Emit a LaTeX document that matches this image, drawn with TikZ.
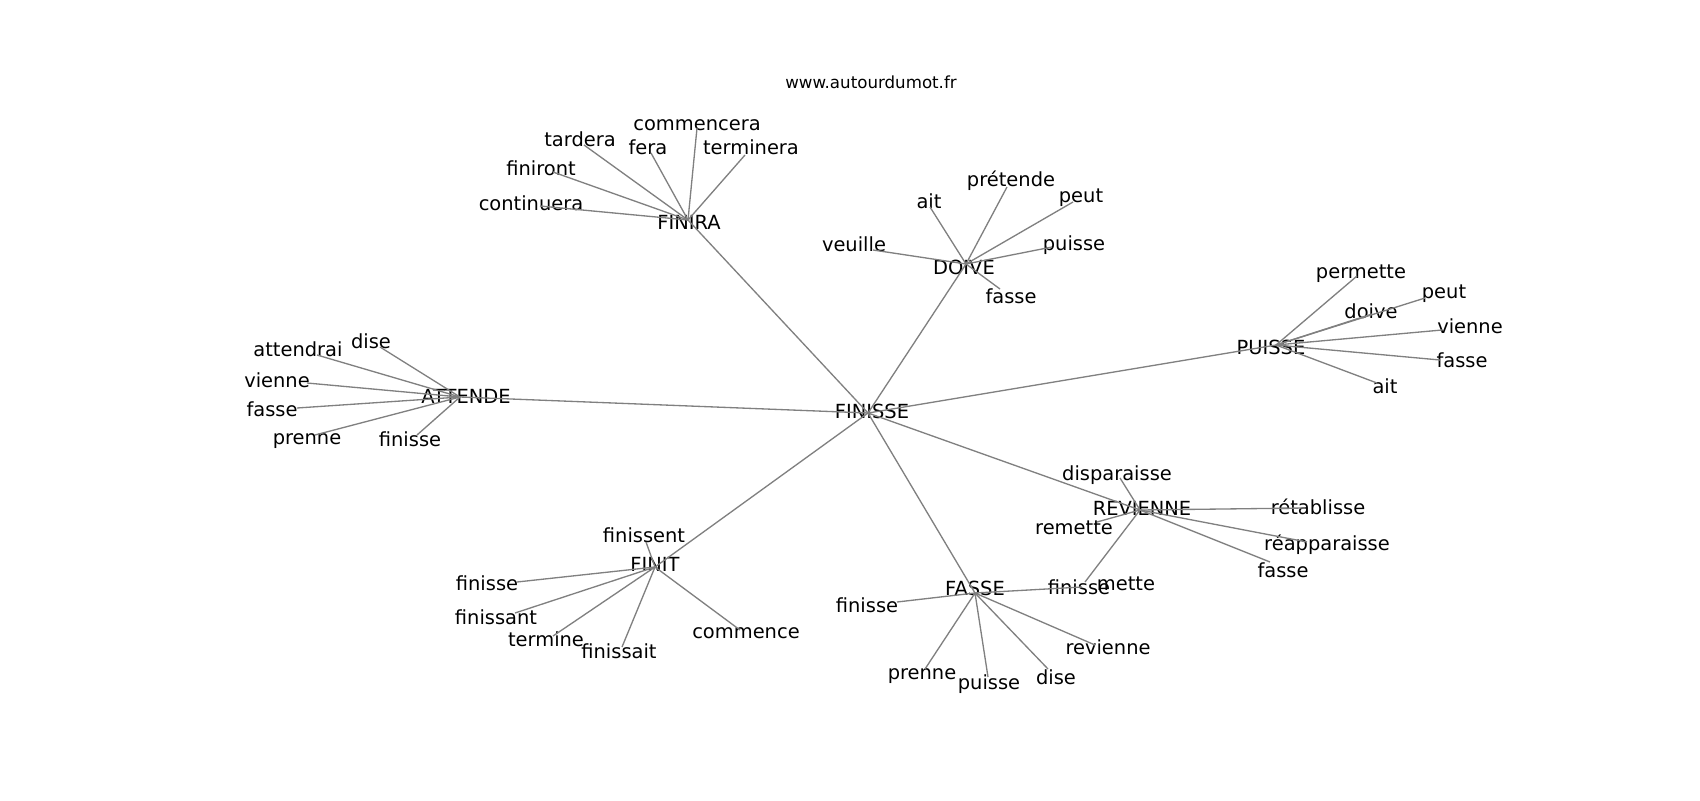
\documentclass[tikz,border=0pt]{standalone}
\usepackage{fontspec}
\setmainfont{DejaVu Sans}
\tikzset{
  lbl/.style={inner sep=0pt, text=black, font=\fontsize{14pt}{17pt}\selectfont},
  ttl/.style={inner sep=0pt, text=black, font=\fontsize{12pt}{14pt}\selectfont},
  edge/.style={draw=gray, line width=0.95pt},
}
\newcommand\wnode[6]{%
  \coordinate (#1p) at (#5,#6);
  \node[lbl] (#1) at (#2,#3) {#4};
}
\begin{document}
\begin{tikzpicture}[x=0.72pt,y=-0.72pt]
\useasboundingbox (0,0) rectangle (1700,800);
\fill[white] (0,0) rectangle (1700,800);
\node[ttl] (title) at (871,82) {www.autourdumot.fr};

% hubs
\wnode{finisse}{872}{411}{FINISSE}{868}{413}
\wnode{finira}{689}{222}{FINIRA}{688}{220}
\wnode{doive}{964}{267}{DOIVE}{966}{264}
\wnode{puisse}{1271}{347}{PUISSE}{1276}{345}
\wnode{attende}{466}{396}{ATTENDE}{460}{397}
\wnode{finit}{655}{564}{FINIT}{655}{567}
\wnode{fasse}{975}{588}{FASSE}{975}{593}
\wnode{revienne}{1142}{508}{REVIENNE}{1140}{510}

% FINIRA leaves
\wnode{a1}{697}{125}{commencera}{697}{128}
\wnode{a2}{580}{139}{tardera}{584}{145}
\wnode{a3}{648}{147}{fera}{651}{153}
\wnode{a4}{751}{147}{terminera}{745}{155}
\wnode{a5}{541}{168}{finiront}{553}{172}
\wnode{a6}{531}{203}{continuera}{540}{206}

% DOIVE leaves
\wnode{b1}{929}{201}{ait}{930}{207}
\wnode{b2}{1011}{181}{prétende}{1007}{187}
\wnode{b3}{1081}{198}{peut}{1073}{202}
\wnode{b4}{1074}{245}{puisse}{1052}{247}
\wnode{b5}{854}{244}{veuille}{873}{250}
\wnode{b6}{1011}{296}{fasse}{1000}{289}

% PUISSE leaves
\wnode{c1}{1361}{274}{permette}{1357}{276}
\wnode{c2}{1444}{294}{peut}{1425}{298}
\wnode{c3}{1371}{311}{doive}{1372}{314}
\wnode{c4}{1470}{326}{vienne}{1442}{330}
\wnode{c5}{1462}{360}{fasse}{1440}{360}
\wnode{c6}{1385}{386}{ait}{1377}{383}

% ATTENDE leaves
\wnode{d1}{371}{341}{dise}{380}{347}
\wnode{d2}{298}{349}{attendrai}{317}{355}
\wnode{d3}{277}{380}{vienne}{307}{383}
\wnode{d4}{272}{409}{fasse}{297}{408}
\wnode{d5}{307}{441}{prenne}{315}{435}
\wnode{d6}{410}{439}{finisse}{417}{435}

% FINIT leaves
\wnode{e1}{644}{535}{finissent}{646}{542}
\wnode{e2}{487}{583}{finisse}{517}{582}
\wnode{e3}{496}{617}{finissant}{515}{613}
\wnode{e4}{546}{639}{termine}{553}{636}
\wnode{e5}{619}{651}{finissait}{622}{647}
\wnode{e6}{746}{633}{commence}{740}{630}

% FASSE leaves
\wnode{f1}{867}{605}{finisse}{897}{602}
\wnode{f2}{1079}{587}{finisse}{1082}{587}
\wnode{f3}{922}{676}{prenne}{925}{669}
\wnode{f4}{989}{684}{puisse}{988}{677}
\wnode{f5}{1056}{677}{dise}{1048}{669}
\wnode{f6}{1108}{647}{revienne}{1095}{645}

% REVIENNE leaves
\wnode{g1}{1117}{475}{disparaisse}{1120}{478}
\wnode{g2}{1074}{528}{remette}{1097}{522}
\wnode{g3}{1318}{507}{rétablisse}{1305}{508}
\wnode{g4}{1327}{545}{réapparaisse}{1307}{542}
\wnode{g5}{1283}{570}{fasse}{1270}{562}
\wnode{g6}{1126}{584}{mette}{1085}{582}

% edges
\foreach \h in {finira,doive,puisse,attende,finit,fasse,revienne}
  \draw[edge] (finissep) -- (\h p);
\foreach \l in {a1,a2,a3,a4,a5,a6} \draw[edge] (finirap) -- (\l p);
\foreach \l in {b1,b2,b3,b4,b5,b6} \draw[edge] (doivep) -- (\l p);
\foreach \l in {c1,c2,c3,c4,c5,c6} \draw[edge] (puissep) -- (\l p);
\foreach \l in {d1,d2,d3,d4,d5,d6} \draw[edge] (attendep) -- (\l p);
\foreach \l in {e1,e2,e3,e4,e5,e6} \draw[edge] (finitp) -- (\l p);
\foreach \l in {f1,f2,f3,f4,f5,f6} \draw[edge] (fassep) -- (\l p);
\foreach \l in {g1,g2,g3,g4,g5,g6} \draw[edge] (reviennep) -- (\l p);
\end{tikzpicture}
\end{document}
